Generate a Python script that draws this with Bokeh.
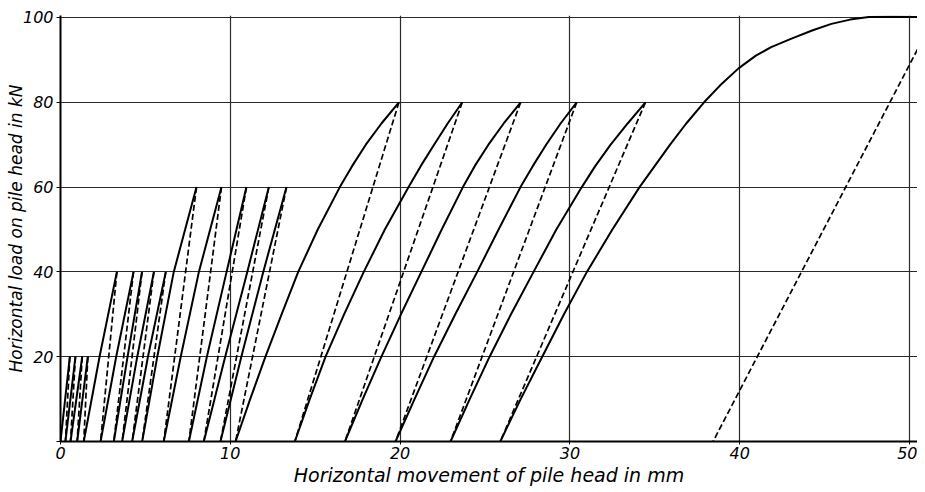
from bokeh.plotting import figure
from bokeh.models import Range1d, FixedTicker
from bokeh.embed import file_html
from bokeh.resources import INLINE

# ---------------- data (movement in mm, load in kN) ----------------
# 20 kN cycles: loading line start -> peak, unloading peak -> end
c20_start = [0.00, 0.29, 0.59, 0.98]
c20_peak = [0.55, 0.88, 1.28, 1.61]
c20_end = [0.29, 0.59, 0.98, 1.37]

# 40 kN cycles: movement at loads 0, 20, 40 kN
c40_loads = [0, 20, 40]
c40_solid = [
    [1.37, 2.30, 3.32],
    [2.36, 3.28, 4.30],
    [3.14, 3.95, 4.80],
    [3.63, 4.52, 5.50],
    [4.22, 5.15, 6.20],
]
c40_end = [2.36, 3.14, 3.63, 4.22, 4.81]

# 60 kN cycles: movement at loads 0, 20, 40, 60 kN
c60_loads = [0, 20, 40, 60]
c60_solid = [
    [4.81, 5.70, 6.67, 8.01],
    [6.08, 7.08, 8.15, 9.48],
    [7.56, 8.62, 9.78, 10.95],
    [8.44, 9.70, 11.00, 12.27],
    [9.42, 10.65, 11.94, 13.31],
]
c60_end = [6.08, 7.56, 8.44, 9.42, 10.31]

# 80 kN cycles: movement at loads 0..80 kN
c80_loads = [0, 10, 20, 30, 40, 50, 60, 65, 70, 75, 80]
c80_solid = [
    [10.31, 11.17, 12.07, 13.02, 14.00, 15.15, 16.45, 17.18, 17.98, 18.90, 19.93],
    [13.80, 14.68, 15.61, 16.70, 17.86, 19.10, 20.50, 21.22, 22.00, 22.80, 23.66],
    [16.75, 17.80, 18.90, 20.05, 21.25, 22.45, 23.70, 24.40, 25.20, 26.10, 27.10],
    [19.73, 20.85, 22.00, 23.25, 24.54, 25.80, 27.09, 27.82, 28.60, 29.45, 30.40],
    [22.97, 24.10, 25.27, 26.53, 27.86, 29.20, 30.70, 31.50, 32.40, 33.40, 34.45],
]
c80_end = [13.80, 16.75, 19.73, 22.97, 25.90]

# 100 kN cycle
c100_loads = [0, 10, 20, 30, 40, 50, 60, 70, 75, 80, 84, 88, 91, 93, 95, 97,
              98.5, 99.5, 100.1, 100.2, 100.1, 100.0]
c100_x = [25.90, 27.10, 28.37, 29.65, 31.00, 32.50, 34.10, 35.90, 36.85, 37.90, 38.85,
          39.93, 40.95, 41.85, 43.05, 44.30, 45.40, 46.50, 47.60, 49.00, 50.50, 51.45]
c100_end = 38.43

x_ticks = [0, 10, 20, 30, 40, 50]
y_ticks = [0, 20, 40, 60, 80, 100]
x_title = "Horizontal movement of pile head in mm"
y_title = "Horizontal load on pile head in kN"

# ---------------- build line lists ----------------
solid_xs, solid_ys, dash_xs, dash_ys = [], [], [], []
for s, pk, e in zip(c20_start, c20_peak, c20_end):
    solid_xs.append([s, pk]); solid_ys.append([0, 20])
    dash_xs.append([pk, e]); dash_ys.append([20, 0])
for group, loads, ends in [(c40_solid, c40_loads, c40_end),
                           (c60_solid, c60_loads, c60_end),
                           (c80_solid, c80_loads, c80_end)]:
    for xs, e in zip(group, ends):
        solid_xs.append(xs); solid_ys.append(loads)
        dash_xs.append([xs[-1], e]); dash_ys.append([loads[-1], 0])
solid_xs.append(c100_x); solid_ys.append(c100_loads)
dash_xs.append([c100_x[-1], c100_end]); dash_ys.append([c100_loads[-1], 0])

FONT = "DejaVu Sans"

p = figure(width=917, height=488,
           x_range=Range1d(0, 50.47), y_range=Range1d(0, 100.47),
           output_backend="svg", toolbar_location=None,
           min_border_left=60, min_border_right=0,
           min_border_top=15, min_border_bottom=47)
p.outline_line_color = None
p.background_fill_color = "white"
p.border_fill_color = "white"

for ax, ticks in [(p.xaxis[0], x_ticks), (p.yaxis[0], y_ticks)]:
    ax.ticker = FixedTicker(ticks=ticks)
    ax.axis_line_width = 2
    ax.axis_line_color = "black"
    ax.major_tick_in = 0
    ax.major_tick_line_color = "black"
    ax.minor_tick_line_color = None
    ax.major_label_text_font = FONT
    ax.major_label_text_font_style = "italic"
    ax.major_label_text_font_size = "16px"
    ax.major_label_text_color = "black"
    ax.axis_label_text_font = FONT
    ax.axis_label_text_font_style = "italic"
    ax.axis_label_text_color = "black"

p.xaxis.major_tick_out = 3
p.xaxis.major_label_standoff = 2
p.xaxis.axis_label = x_title
p.xaxis.axis_label_text_font_size = "19px"
p.xaxis.axis_label_standoff = 2

p.yaxis.major_label_overrides = {0: ""}
p.yaxis.major_tick_out = 4
p.yaxis.major_label_standoff = 3
p.yaxis.axis_label = y_title
p.yaxis.axis_label_text_font_size = "17px"
p.yaxis.axis_label_standoff = -6

p.xgrid.ticker = FixedTicker(ticks=x_ticks)
p.ygrid.ticker = FixedTicker(ticks=y_ticks)
for g in (p.xgrid[0], p.ygrid[0]):
    g.grid_line_color = "#2a2a2a"
    g.grid_line_width = 1.2

p.multi_line(xs=solid_xs, ys=solid_ys, line_color="black", line_width=2)
p.multi_line(xs=dash_xs, ys=dash_ys, line_color="black", line_width=1.7, line_dash="6 3")

open("out.html", "w").write(file_html(p, INLINE))
